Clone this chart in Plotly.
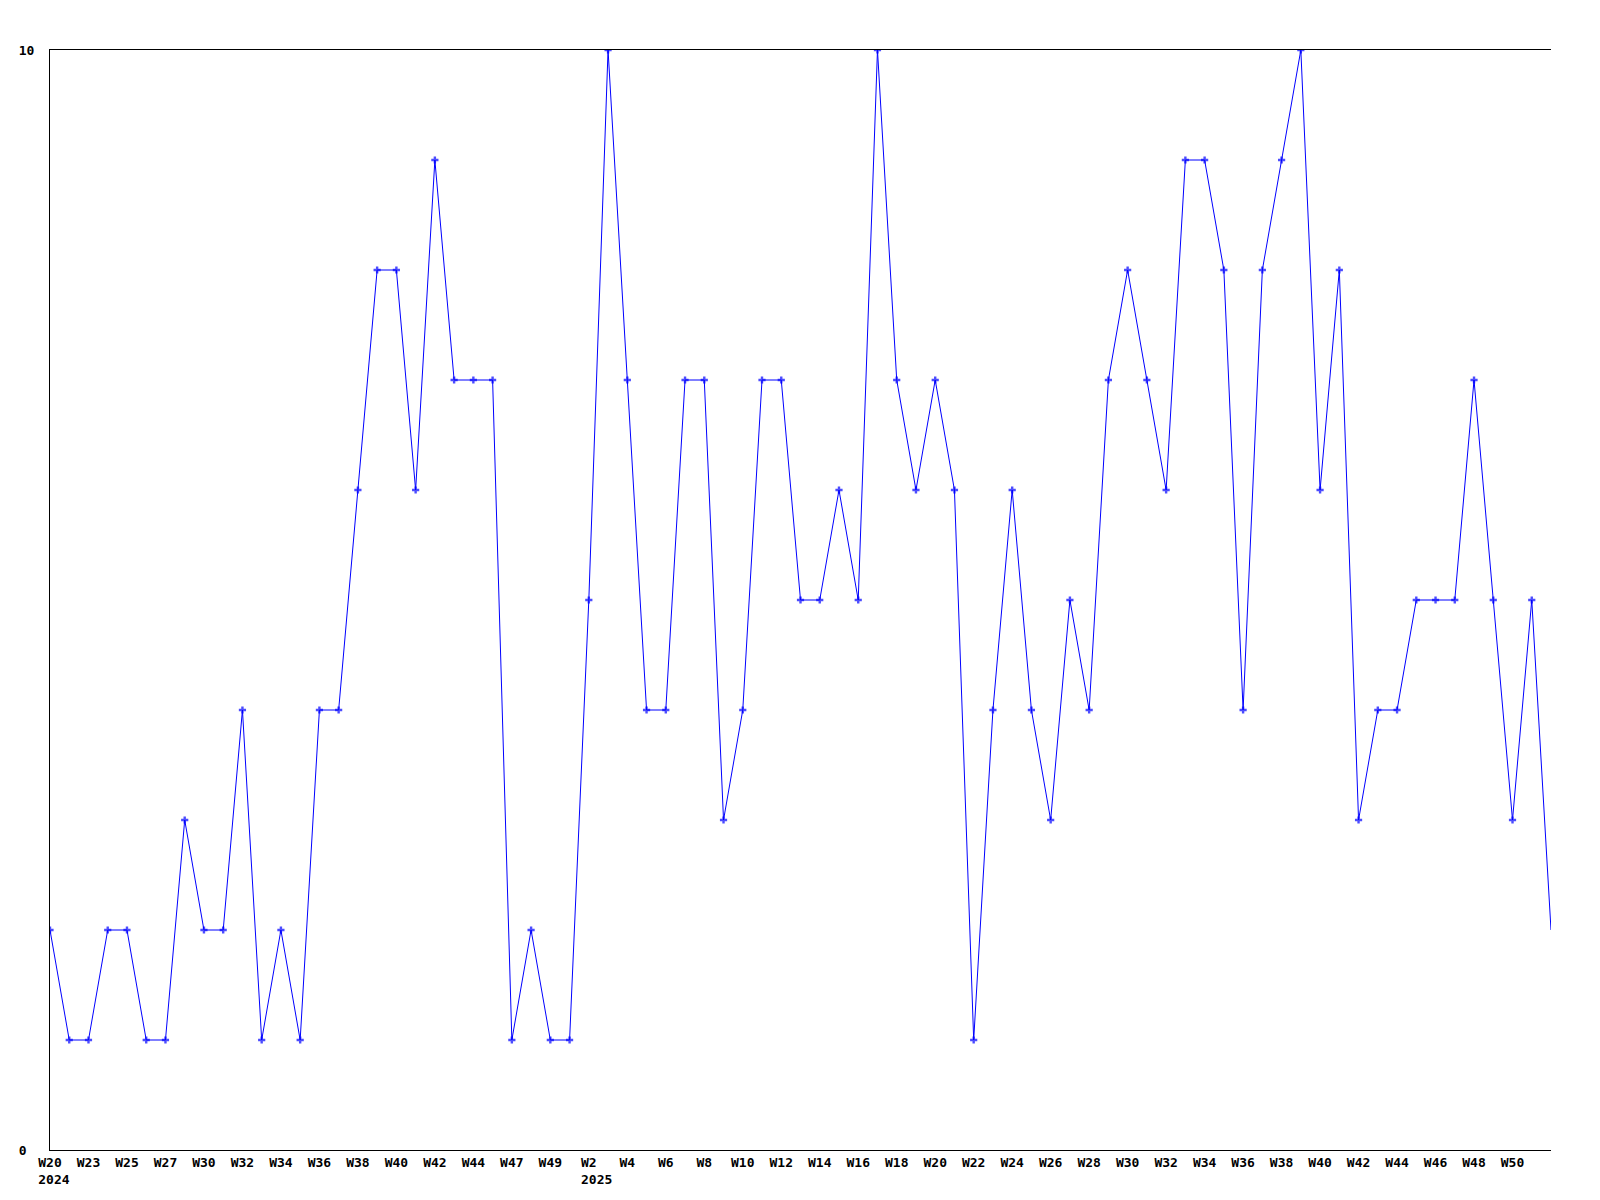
"""Weekly counts line chart, 2024 W20 .. 2025 W51."""
import plotly.graph_objects as go

# one value per week-point (79 points)
values = [
    2, 1, 1, 2, 2, 1, 1, 3, 2, 2,
    4, 1, 2, 1, 4, 4, 6, 8, 8, 6,
    9, 7, 7, 7, 1, 2, 1, 1, 5, 10,
    7, 4, 4, 7, 7, 3, 4, 7, 7, 5,
    5, 6, 5, 10, 7, 6, 7, 6, 1, 4,
    6, 4, 3, 5, 4, 7, 8, 7, 6, 9,
    9, 8, 4, 8, 9, 10, 6, 8, 3, 4,
    4, 5, 5, 5, 7, 5, 3, 5, 2,
]

# labels shown on every other point (nbsp padding keeps the year left-aligned under the week)
NB = "\u00a0"
tick_labels = [
    f"{NB}W20{NB}<br>{NB}2024", "W23", "W25", "W27", "W30", "W32", "W34", "W36", "W38", "W40",
    "W42", "W44", "W47", "W49", f"{NB*2}W2{NB*2}<br>{NB*2}2025", "W4", "W6", "W8", "W10", "W12",
    "W14", "W16", "W18", "W20", "W22", "W24", "W26", "W28", "W30", "W32",
    "W34", "W36", "W38", "W40", "W42", "W44", "W46", "W48", "W50",
]

xs = list(range(len(values)))
tick_pos = xs[::2][:len(tick_labels)]

font = dict(family="DejaVu Sans Mono", size=13, color="black", weight="bold")

fig = go.Figure()
fig.add_trace(go.Scatter(
    x=xs, y=values, mode="lines+markers",
    line=dict(color="#0000ff", width=1),
    marker=dict(symbol="cross", size=[6] * (len(values) - 1) + [0], color="#0000ff",
                line=dict(width=0)),
    showlegend=False,
))
# the page body adds ~8px offset, margins compensate
fig.update_layout(
    width=1600, height=1200,
    margin=dict(l=42, r=57, t=42, b=58, autoexpand=False),
    paper_bgcolor="white", plot_bgcolor="white",
    font=font,
)
fig.update_xaxes(
    range=[0, len(values) - 1], tickvals=tick_pos, ticktext=tick_labels,
    showgrid=False, zeroline=False, showline=True, linecolor="black", linewidth=1,
    mirror=True, ticks="", tickfont=font, tickangle=0,
)
fig.update_yaxes(
    range=[0, 10], tickvals=[0, 10], ticktext=["0" + NB, "10"],
    showgrid=False, zeroline=False, showline=True, linecolor="black", linewidth=1,
    ticks="", tickfont=font, ticklabelstandoff=12,
)
fig.write_html("out.html")
